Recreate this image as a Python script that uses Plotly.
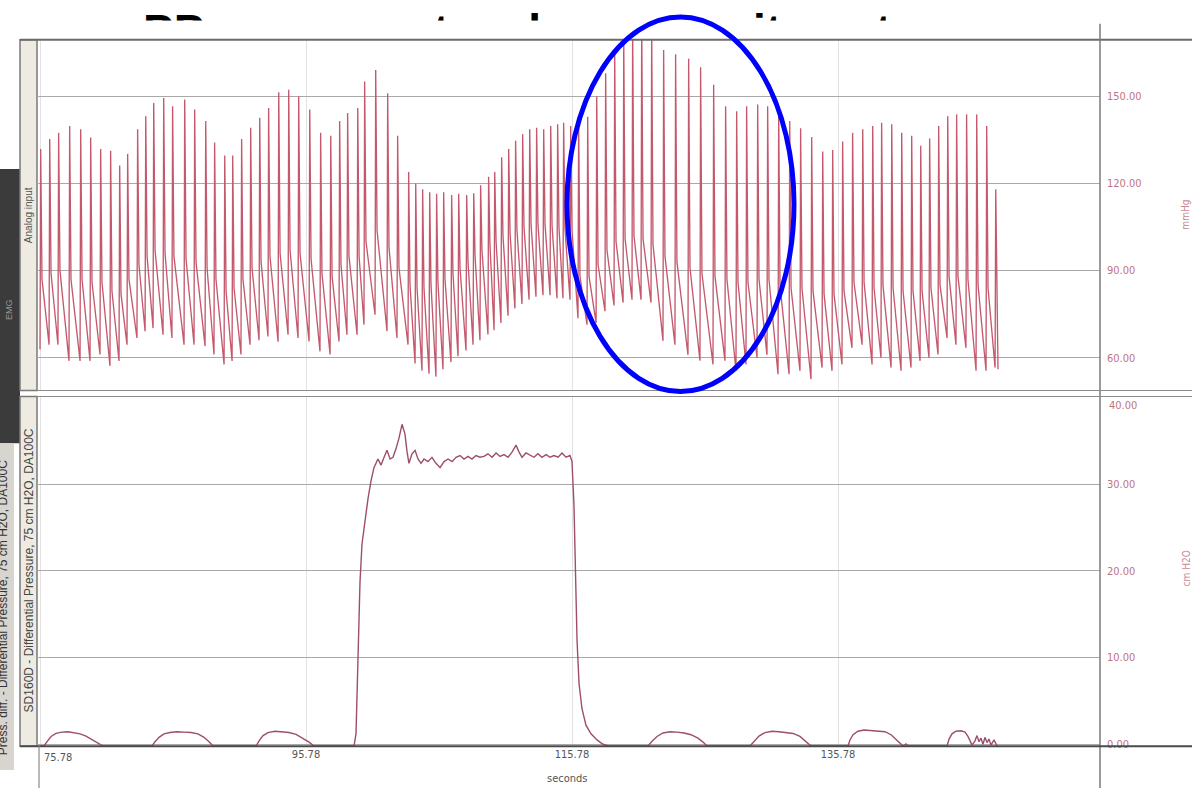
import plotly.graph_objects as go

W, H = 1192, 793

# ---------------- data ----------------
# Analog input (arterial pressure, mmHg) - one entry per heart beat
beat_time = [75.78, 76.46, 77.13, 77.96, 78.79, 79.54, 80.29, 81.04, 81.72, 82.32,
             83.07, 83.68, 84.28, 85.03, 85.70, 86.61, 87.36, 88.19, 88.86, 89.62,
             90.22, 90.89, 91.57, 92.25, 92.92, 93.68, 94.43, 95.18, 96.01, 96.83,
             97.59, 98.26, 98.86, 99.62, 100.14, 100.97, 101.87, 102.62, 103.45,
             103.98, 104.50, 105.03, 105.55, 106.08, 106.68, 107.21, 107.81, 108.34, 108.86,
             109.46, 109.92, 110.44, 110.97, 111.49, 112.02, 112.55, 113.07, 113.60, 114.13,
             114.65, 115.10, 115.63,
             116.23, 116.91, 117.59, 118.26, 118.94, 119.62, 120.29, 120.97, 121.72, 122.62,
             123.52, 124.50, 125.40, 126.38, 127.28, 128.11, 128.86, 129.69, 130.44, 131.27,
             132.10, 132.92, 133.75, 134.58, 135.33, 136.08, 136.83, 137.59, 138.34, 139.01,
             139.77, 140.52, 141.27, 141.95, 142.62, 143.30, 143.98, 144.65, 145.40, 146.16,
             146.91, 147.59]
systolic = [131.9, 135.3, 137.5, 139.8, 138.7, 135.8, 131.9, 131.3, 126.2, 130.2,
            138.7, 143.2, 147.7, 149.4, 146.6, 148.9, 145.5, 141.5, 134.1, 129.6,
            129.6, 135.3, 139.2, 142.6, 146.0, 151.4, 152.3, 150.0, 145.5, 137.5,
            136.4, 141.5, 144.3, 146.0, 155.1, 159.1, 151.1, 136.4, 124.0,
            120.0, 118.0, 117.0, 116.5, 117.0, 116.0, 116.5, 116.0, 116.6, 119.4,
            122.3, 124.0, 129.0, 131.9, 134.7, 137.0, 138.7, 139.2, 138.7, 139.8,
            140.4, 140.9, 139.8,
            141.0, 143.0, 150.0, 158.0, 165.0, 170.0, 174.0, 176.0, 173.0, 166.0,
            164.5, 163.0, 160.0, 154.0, 146.6, 144.9, 146.6, 147.2, 146.6, 144.5,
            141.5, 139.0, 136.0, 131.0, 131.5, 134.5, 137.5, 138.7, 139.8, 140.9,
            140.4, 137.5, 136.4, 133.0, 135.5, 139.8, 143.2, 143.8, 143.8, 143.8,
            139.8, 118.0]
notch = [87, 89, 90, 87, 87, 86, 86, 83, 82, 87,
         92, 95, 97, 96, 95, 94, 93, 91, 87, 83,
         84, 87, 91, 93, 95, 96, 97, 96, 94, 89,
         88, 92, 95, 95, 100, 104, 98, 91, 85,
         84, 84, 85, 86, 87, 89, 91, 93, 95, 97,
         99, 100, 102, 103, 104, 105, 106, 106, 106, 105.5,
         105, 104.5, 104,
         88, 88, 92, 97, 100, 101, 102, 101, 99, 95,
         93, 91, 89, 88, 87, 86, 86, 87, 87, 85,
         84, 84, 83, 82, 82, 83, 86, 86, 84, 85,
         84, 83, 83, 83, 84, 85, 88, 88, 87, 85,
         84, 80]
diastolic = [62.8, 64.5, 64.5, 58.9, 58.9, 58.9, 61.1, 57.2, 58.9, 64.5,
             66.8, 69.1, 70.2, 67.9, 66.8, 64.5, 64.5, 64.0, 61.1, 57.7,
             58.9, 61.1, 64.5, 66.0, 67.3, 65.5, 67.9, 66.8, 65.6, 62.2,
             61.1, 65.6, 67.9, 67.9, 71.4, 74.8, 69.1, 66.8, 64.5,
             58.0, 55.5, 54.5, 53.5, 56.0, 58.5, 60.5, 62.5, 64.5, 66.0,
             68.0, 69.5, 72.0, 74.5, 77.0, 78.5, 80.0, 81.0, 81.5, 81.5,
             80.5, 80.5, 80.0,
             73.6, 71.4, 72.0, 76.0, 78.0, 79.0, 80.0, 80.0, 79.0, 65.8,
             64.5, 61.0, 59.0, 57.7, 59.0, 55.5, 57.7, 60.0, 61.0, 54.3,
             54.3, 55.5, 52.6, 56.6, 55.5, 57.7, 63.4, 64.5, 57.7, 60.0,
             56.6, 55.5, 56.6, 58.9, 60.0, 61.1, 66.8, 64.5, 63.4, 55.5,
             55.5, 56.6]
end_time, end_diastolic = 147.81, 56.0

# SD160D differential pressure (cm H2O)
dp_time = [75.78, 76.08, 76.31, 76.61, 76.98, 77.43, 77.89, 78.34, 78.79, 79.24, 79.69, 80.14, 80.52,
           84.20, 84.43, 84.73, 85.10, 85.55, 86.08, 86.61, 87.13, 87.66, 88.11, 88.49, 88.79,
           92.02, 92.25, 92.55, 92.92, 93.45, 93.98, 94.50, 95.03, 95.55, 96.01, 96.38,
           99.39, 99.54, 99.69, 99.84, 99.99, 100.22, 100.44, 100.67, 100.89, 101.19, 101.42,
           101.65, 101.87, 102.10, 102.32, 102.55, 102.77, 103.00, 103.22, 103.37, 103.52,
           103.75, 103.98, 104.20, 104.43, 104.65, 104.95, 105.25, 105.55, 105.86, 106.16,
           106.46, 106.76, 107.06, 107.36, 107.66, 107.96, 108.26, 108.56, 108.86, 109.16,
           109.46, 109.77, 110.07, 110.37, 110.67, 110.97, 111.27, 111.57, 111.80, 112.02,
           112.32, 112.62, 112.92, 113.22, 113.52, 113.83, 114.13, 114.43, 114.73, 115.03,
           115.33, 115.63, 115.78, 115.93, 116.04, 116.16, 116.31, 116.53, 116.83, 117.21,
           117.66, 118.11, 118.49,
           121.49, 121.80, 122.17, 122.62, 123.15, 123.68, 124.20, 124.73, 125.25, 125.63, 125.93,
           129.16, 129.46, 129.84, 130.29, 130.82, 131.34, 131.87, 132.40, 132.92, 133.37, 133.75,
           136.53, 136.68, 136.91, 137.28, 137.74, 138.26, 138.79, 139.31, 139.77, 140.14, 140.44,
           140.67, 140.89, 141.04,
           143.98, 144.13, 144.35, 144.65, 145.03, 145.33, 145.55, 145.71, 145.86, 146.08, 146.23,
           146.38, 146.53, 146.68, 146.83, 146.98, 147.13, 147.28, 147.51, 147.74]
dp_value = [-0.2, -0.2, 0.3, 0.9, 1.25, 1.4, 1.45, 1.35, 1.2, 0.95, 0.55, 0.1, -0.2,
            -0.2, 0.3, 0.8, 1.2, 1.35, 1.45, 1.4, 1.35, 1.2, 0.8, 0.3, -0.2,
            -0.2, 0.4, 1.0, 1.35, 1.5, 1.45, 1.35, 1.15, 0.7, 0.25, -0.2,
            -0.2, 1.2, 10.0, 18.7, 23.1, 26.0, 28.3, 30.4, 31.9, 32.9, 32.2,
            33.1, 33.9, 32.9, 33.1, 34.1, 35.3, 36.9, 35.8, 33.8, 32.4,
            33.5, 33.9, 32.9, 32.4, 32.9, 32.6, 33.1, 32.4, 31.9, 32.6,
            32.9, 32.6, 33.1, 33.3, 32.9, 33.2, 32.9, 33.3, 33.1, 33.2,
            33.5, 33.1, 33.6, 33.2, 33.4, 33.1, 33.7, 34.5, 33.7, 33.1,
            33.6, 33.3, 33.1, 33.5, 33.1, 33.4, 33.1, 33.3, 33.1, 33.6,
            33.1, 33.3, 32.6, 27.5, 19.7, 11.9, 7.0, 4.1, 2.2, 1.2,
            0.5, 0.0, -0.2,
            -0.2, 0.35, 0.9, 1.3, 1.45, 1.4, 1.3, 1.1, 0.7, 0.25, -0.2,
            -0.2, 0.35, 0.95, 1.35, 1.5, 1.45, 1.35, 1.25, 0.9, 0.35, -0.2,
            -0.2, 0.5, 1.1, 1.5, 1.65, 1.6, 1.55, 1.45, 1.1, 0.55, 0.05,
            -0.2, 0.05, -0.2,
            -0.2, 0.6, 1.2, 1.5, 1.55, 1.4, 0.9, 0.3, -0.1, 0.4, 1.0,
            0.3, 0.7, 0.0, 0.8, 0.2, 0.6, -0.1, 0.5, -0.2]

x_tickvals = [75.78, 95.78, 115.78, 135.78]
x_ticktext = ["75.78", "95.78", "115.78", "135.78"]
abp_ticks = [60, 90, 120, 150]
dp_ticks = [0, 10, 20, 30, 40]

title_text = "PP response to a lung recruitment maneuver"

# ---------------- helpers (layout placement only) ----------------
def fx(px):
    return px / W

def fy(py):
    return 1 - py / H

X_RANGE = [75.554, 155.479]
RISE, FALL = 0.05, 0.15

# build the pressure waveform from the per-beat values
wx, wy = [], []
for t, s, n, d in zip(beat_time, systolic, notch, diastolic):
    wx += [t, t + RISE, t + FALL]
    wy += [d, s, n]
wx.append(end_time)
wy.append(end_diastolic)

NARROW = "Liberation Sans Narrow, Arial Narrow, DejaVu Sans Condensed, sans-serif"
SANS = "Liberation Sans, Arial, sans-serif"

fig = go.Figure()
fig.add_trace(go.Scatter(x=wx, y=wy, mode="lines", xaxis="x2", yaxis="y",
                         line=dict(color="#c4596d", width=1.35), hoverinfo="skip",
                         showlegend=False))
fig.add_trace(go.Scatter(x=dp_time, y=dp_value, mode="lines", xaxis="x", yaxis="y2",
                         line=dict(color="#9d4d6d", width=1.4), hoverinfo="skip",
                         showlegend=False))
# partially hidden slide title (only the tops of the letters show)
fig.add_trace(go.Scatter(x=[143], y=[36.0], mode="text", text=[title_text],
                         textposition="middle right", xaxis="x3", yaxis="y3",
                         textfont=dict(family=SANS, size=46, color="black", weight="bold"),
                         cliponaxis=True, hoverinfo="skip", showlegend=False))

x_dom = [fx(37), fx(1100)]
fig.update_layout(
    width=W, height=H, autosize=False,
    margin=dict(l=0, r=0, t=0, b=0, pad=0),
    paper_bgcolor="white", plot_bgcolor="white",
    showlegend=False,
    xaxis=dict(domain=x_dom, range=X_RANGE, anchor="y2",
               tickvals=x_tickvals, ticktext=[""] + x_ticktext[1:],
               showgrid=True, gridcolor="#e2e2e2", gridwidth=1,
               zeroline=False, showline=False, ticks="",
               tickfont=dict(family=NARROW, size=11, color="#555555")),
    xaxis2=dict(domain=x_dom, range=X_RANGE, anchor="y", matches="x",
                tickvals=x_tickvals, showticklabels=False,
                showgrid=True, gridcolor="#e2e2e2", zeroline=False, ticks=""),
    yaxis=dict(domain=[fy(393), fy(40)], range=[48.71, 169.5], anchor="x2",
               side="right", tickvals=abp_ticks,
               ticktext=["%.2f" % v for v in abp_ticks],
               showgrid=True, gridcolor="#a9a9a9", gridwidth=1, zeroline=False,
               ticks="", ticklabelstandoff=6,
               tickfont=dict(family=NARROW, size=11, color="#bf7482")),
    yaxis2=dict(domain=[fy(751), fy(399)], range=[-0.23, 40.11], anchor="x",
                side="right", tickvals=dp_ticks,
                ticktext=["%.2f" % v for v in dp_ticks[:-1]] + [""],
                showgrid=True, gridcolor="#a9a9a9", gridwidth=1, zeroline=False,
                ticks="", ticklabelstandoff=6,
                tickfont=dict(family=NARROW, size=11, color="#bf7482")),
    xaxis3=dict(domain=[0, 1], range=[0, W], visible=False, fixedrange=True),
    yaxis3=dict(domain=[fy(21), 1], range=[21, 0], visible=False, anchor="x3",
                fixedrange=True),
)

shapes = []
def line(x0, y0, x1, y1, color="#6e6e6e", width=1.5):
    shapes.append(dict(type="line", xref="paper", yref="paper",
                       x0=fx(x0), y0=fy(y0), x1=fx(x1), y1=fy(y1),
                       line=dict(color=color, width=width), layer="above"))

def rect(x0, y0, x1, y1, fill, color=None, width=0, layer="below"):
    shapes.append(dict(type="rect", xref="paper", yref="paper",
                       x0=fx(x0), y0=fy(y1), x1=fx(x1), y1=fy(y0),
                       fillcolor=fill, line=dict(color=color or fill, width=width),
                       layer=layer))

# white band in front of the lower part of the slide title
rect(100, 21, 1192, 38.6, "white", layer="above")
# slide background pieces on the left
rect(0, 170, 20, 446, "#3b3b3b")
rect(0, 446, 14, 775, "#d8d4ce")
# channel label boxes
rect(20, 40, 37, 393, "#eeebe2", "#7a7a7a", 1.5)
rect(20, 399, 37, 751, "#eeebe2", "#7a7a7a", 1.5)
# frame lines
line(20, 40, 1192, 40, "#6a6a6a", 1.8)
line(1100, 24, 1100, 793, "#7a7a7a", 1.5)
line(37, 393, 1192, 393, "#8a8a8a", 1.2)
line(37, 399, 1192, 399, "#8a8a8a", 1.2)
line(20, 751, 1192, 751, "#4a4a4a", 2)
line(39, 751, 39, 793, "#8a8a8a", 1.2)
# highlight ellipse
shapes.append(dict(type="circle", xref="paper", yref="paper",
                   x0=fx(567), x1=fx(794), y0=fy(394), y1=fy(17),
                   line=dict(color="#0000ff", width=5), layer="above"))
fig.update_layout(shapes=shapes)

ann = []
def text(px, py, s, size=11, color="#555555", angle=0, xanchor="center", family=NARROW):
    ann.append(dict(x=fx(px), y=fy(py), xref="paper", yref="paper", text=s,
                    showarrow=False, textangle=angle, xanchor=xanchor, yanchor="middle",
                    font=dict(family=family, size=size, color=color)))

text(42, 762, x_ticktext[0], xanchor="left")
text(567, 783, "seconds", size=11)
text(1107, 408, "%.2f" % dp_ticks[-1], size=11, color="#bf7482", xanchor="left")
text(1186, 216, "mmHg", size=10, color="#c48a96", angle=-90)
text(1186, 572, "cm H2O", size=10, color="#c48a96", angle=-90)
text(28.5, 217, "Analog input", size=10, color="#555555", angle=-90, family=SANS)
text(29, 574, "SD160D - Differential Pressure, 75 cm H2O, DA100C", size=12,
     color="#444444", angle=-90, family=SANS)
text(9, 312, "EMG", size=9, color="#9a9a9a", angle=-90, family=SANS)
text(3, 612, "Press. diff. - Differential Pressure, 75 cm H2O, DA100C", size=12,
     color="#333333", angle=-90, family=SANS)
fig.update_layout(annotations=ann)

fig.write_html("out.html", config={"displayModeBar": False},
               post_script="document.body.style.margin='0';document.body.style.overflow='hidden';")
